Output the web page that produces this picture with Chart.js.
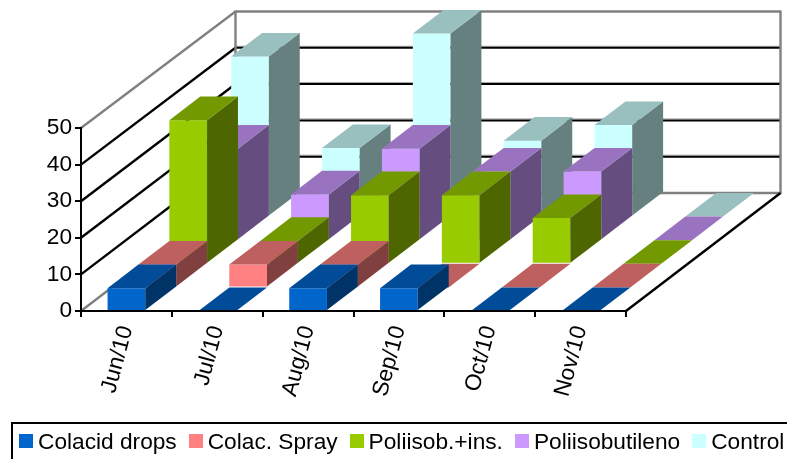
<!DOCTYPE html>
<html>
<head>
<meta charset="utf-8">
<title>Chart</title>
<script src="https://cdn.jsdelivr.net/npm/chart.js@4"></script>
<style>
    html, body { margin: 0; padding: 0; background: #fff; overflow: hidden; }
    #wrap { position: relative; width: 787px; height: 459px; overflow: hidden; }
    #legend {
        position: absolute; left: 11px; top: 422px; width: 800px; height: 60px;
        border: 2px solid #000; box-sizing: border-box;
        font: 22.7px "Liberation Sans", Arial, sans-serif; color: #000;
        display: flex; align-items: flex-start; padding: 4px 0 0 6px; white-space: nowrap;
    }
    #legend span.item { display: flex; align-items: center; margin-right: 12px; line-height: 26px; }
    #legend i { display: block; width: 14px; height: 14px; margin-right: 5px; }
</style>
</head>
<body>
<div id="wrap">
    <canvas id="chart" width="787" height="459"></canvas>
    <div id="legend"></div>
</div>
<script>
// Datos
const categories = ['Jun/10', 'Jul/10', 'Aug/10', 'Sep/10', 'Oct/10', 'Nov/10'];
const seriesNames = ['Colacid drops', 'Colac. Spray', 'Poliisob.+ins.', 'Poliisobutileno', 'Control'];
const colacidDrops = [6.25, 0, 6.25, 6.25, 0, 0];
const colacSpray = [6.25, 6.25, 6.25, 0, 0, 0];
const poliisobIns = [39.25, 6.25, 18.75, 18.75, 12.5, 0];
const poliisobutileno = [25, 12.5, 25, 18.75, 18.75, 0];
const control = [43.75, 18.75, 50, 20.75, 25, 0];
const seriesValues = [colacidDrops, colacSpray, poliisobIns, poliisobutileno, control];

// Color de cada serie: frente, techo, lateral
const frontColors = ['#0066cc', '#ff8080', '#99cc00', '#cc99ff', '#ccffff'];
const topColors = ['#004c99', '#bf6060', '#739900', '#9973bf', '#99bfbf'];
const sideColors = ['#003366', '#804040', '#4d6600', '#664d80', '#668080'];

// Proyeccion de la caja 3D
const DEPTH_X = 154.5;
const DEPTH_Y = 118;
const WALL_SCALE = 0.992;

function line(ctx, x1, y1, x2, y2, color, width) {
    ctx.strokeStyle = color;
    ctx.lineWidth = width;
    ctx.beginPath();
    ctx.moveTo(x1, y1);
    ctx.lineTo(x2, y2);
    ctx.stroke();
}

function poly(ctx, points, color) {
    ctx.fillStyle = color;
    ctx.beginPath();
    points.forEach((p, i) => (i ? ctx.lineTo(p[0], p[1]) : ctx.moveTo(p[0], p[1])));
    ctx.closePath();
    ctx.fill();
}

// Paredes y lineas de la cuadricula
const wallsPlugin = {
    id: 'walls',
    beforeDatasetsDraw(chart) {
        const { ctx, chartArea: area, scales: { y } } = chart;
        const bottomBack = area.bottom - DEPTH_Y;
        const backY = (v) => bottomBack - (area.bottom - y.getPixelForValue(v)) * WALL_SCALE;
        const left = area.left + DEPTH_X;
        const right = area.right + DEPTH_X;

        ctx.save();
        y.ticks.forEach((t) => {
            const fy = y.getPixelForValue(t.value);
            const by = backY(t.value);
            const edge = t.value === 0 || t.value === y.max;
            line(ctx, area.left, fy, left, by, edge ? '#808080' : '#000', 2.4);
            if (edge) {
                line(ctx, left, by, right, by, '#808080', 2.4);
            } else {
                line(ctx, left, by - 1.5, right, by - 1.5, '#a0a0a0', 1);
                line(ctx, left, by, right, by, '#000', 2);
            }
        });
        line(ctx, left, backY(y.max) - 1, left, bottomBack + 1, '#808080', 2.4);
        line(ctx, right, backY(y.max) - 1, right, bottomBack + 1, '#808080', 2.4);
        line(ctx, area.right, area.bottom, right, bottomBack, '#000', 2.4);
        ctx.restore();
    },
    afterDatasetsDraw(chart) {
        const ctx = chart.ctx;
        const stepX = DEPTH_X / seriesValues.length;
        const stepY = DEPTH_Y / seriesValues.length;

        ctx.save();
        // De atras hacia adelante para que las barras se tapen bien
        for (let s = seriesValues.length - 1; s >= 0; s--) {
            chart.getDatasetMeta(s).data.forEach((bar) => {
                const { x, y, base, width } = bar.getProps(['x', 'y', 'base', 'width'], true);
                const x0 = x - width / 2 + stepX * s;
                const x1 = x0 + width;
                const top = y - stepY * s;
                const bottom = base - stepY * s;
                if (bottom - top > 0) {
                    poly(ctx, [[x0, top], [x1, top], [x1, bottom], [x0, bottom]], frontColors[s]);
                    poly(ctx, [[x1, top], [x1 + stepX, top - stepY], [x1 + stepX, bottom - stepY], [x1, bottom]], sideColors[s]);
                }
                poly(ctx, [[x0, top], [x1, top], [x1 + stepX, top - stepY], [x0 + stepX, top - stepY]], topColors[s]);
            });
        }
        ctx.restore();
    },
};

const tickFont = { family: '"Liberation Sans", Arial, sans-serif', size: 22.7 };

new Chart(document.getElementById('chart'), {
    type: 'bar',
    data: {
        labels: categories,
        datasets: seriesNames.map((name, i) => ({
            label: name,
            data: seriesValues[i],
            backgroundColor: 'rgba(0,0,0,0)',
            grouped: false,
            barPercentage: 0.415,
            categoryPercentage: 1,
        })),
    },
    options: {
        responsive: false,
        animation: false,
        layout: { padding: { top: 128, right: 161, left: 0, bottom: 0 } },
        plugins: { legend: { display: false }, tooltip: { enabled: false } },
        scales: {
            x: {
                afterFit: (s) => { s.height = 148; },
                border: { color: '#000', width: 2, z: 1 },
                grid: { drawOnChartArea: false, color: '#000', lineWidth: 2, tickLength: 6, z: 1 },
                ticks: { color: '#000', font: tickFont, minRotation: 75, maxRotation: 75, padding: 6 },
            },
            y: {
                min: 0,
                max: 50,
                afterFit: (s) => { s.width = 81; },
                border: { color: '#000', width: 2, z: 1 },
                grid: { drawOnChartArea: false, color: '#000', lineWidth: 2, tickLength: 6, z: 1 },
                ticks: { color: '#000', font: tickFont, stepSize: 10, padding: 3 },
            },
        },
    },
    plugins: [wallsPlugin],
});

// Leyenda
document.getElementById('legend').innerHTML = seriesNames.map((name, i) =>
    `<span class="item"><i style="background:${frontColors[i]}"></i>${name}</span>`
).join('');
</script>
</body>
</html>
